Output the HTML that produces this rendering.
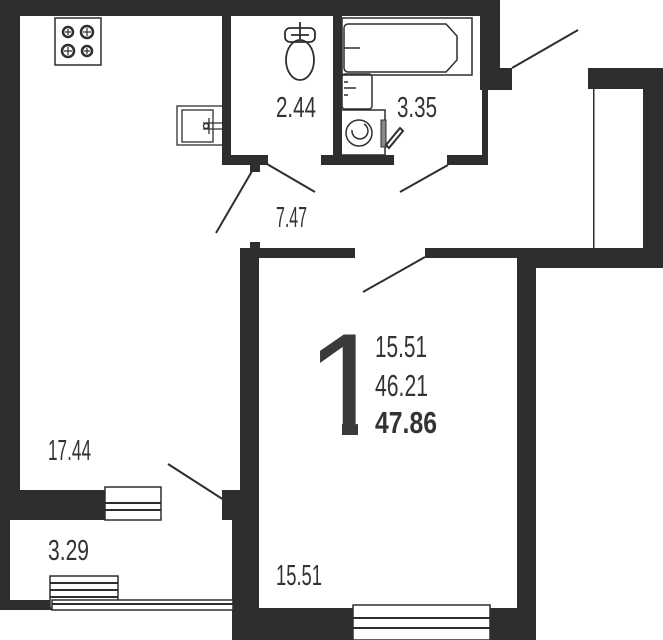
<!DOCTYPE html>
<html><head><meta charset="utf-8"><style>
html,body{margin:0;padding:0;background:#fff;}
svg{display:block;}
text{font-family:"Liberation Sans",sans-serif;fill:#333;}
</style></head><body>
<svg width="663" height="640" viewBox="0 0 663 640" xmlns="http://www.w3.org/2000/svg">
<g fill="#2e2e2e">
<rect x="0" y="0" width="500" height="16"/>
<rect x="0" y="0" width="20" height="520"/>
<rect x="0" y="520" width="10" height="90"/>
<rect x="0" y="490" width="110" height="30"/>
<rect x="0" y="600" width="52" height="10"/>
<rect x="222" y="0" width="9" height="165"/>
<rect x="222" y="155" width="46" height="10"/>
<rect x="250" y="160" width="10" height="12"/>
<rect x="333" y="0" width="9" height="165"/>
<rect x="321" y="155" width="73" height="10"/>
<rect x="447" y="155" width="40" height="10"/>
<rect x="480" y="0" width="20" height="90"/>
<rect x="482" y="68" width="30" height="22"/>
<rect x="482" y="85" width="6" height="80"/>
<rect x="240" y="248" width="19" height="392"/>
<rect x="232" y="490" width="27" height="150"/>
<rect x="250" y="242" width="10" height="16"/>
<rect x="240" y="248" width="115" height="10"/>
<rect x="425" y="248" width="170" height="10"/>
<rect x="517" y="248" width="19" height="392"/>
<rect x="517" y="248" width="146" height="20"/>
<rect x="240" y="608" width="296" height="32"/>
<rect x="588" y="68" width="75" height="21"/>
<rect x="643" y="68" width="20" height="200"/>
<rect x="222" y="490" width="20" height="30"/>
</g>
<rect x="593" y="89" width="1.5" height="160" fill="#2e2e2e"/>
<g fill="#fff" stroke="#2e2e2e" stroke-width="1.5">
<rect x="105" y="487" width="56" height="33"/>
<rect x="353" y="605" width="137" height="35"/>
<rect x="50" y="576" width="68" height="32"/>
<rect x="52" y="600" width="181" height="10"/>
</g>
<g stroke="#2e2e2e" stroke-width="2">
<line x1="105" y1="503" x2="161" y2="503"/><line x1="105" y1="510" x2="161" y2="510"/>
<line x1="353" y1="618" x2="490" y2="618"/><line x1="353" y1="628" x2="490" y2="628"/>
<line x1="50" y1="583" x2="118" y2="583"/><line x1="50" y1="590" x2="118" y2="590"/><line x1="50" y1="597" x2="118" y2="597"/>
<line x1="52" y1="604" x2="233" y2="604"/>
</g>
<g stroke="#2e2e2e" stroke-width="2">
<line x1="255" y1="166" x2="216" y2="233"/>
<line x1="267" y1="164" x2="315" y2="192"/>
<line x1="448" y1="165" x2="400" y2="192"/>
<line x1="512" y1="68" x2="578" y2="30"/>
<line x1="425" y1="257" x2="363" y2="292"/>
<line x1="168" y1="464" x2="224" y2="500"/>
</g>
<rect x="55" y="18" width="46" height="47" fill="none" stroke="#2e2e2e" stroke-width="1.5"/>
<g fill="none" stroke="#2e2e2e" stroke-width="2.5">
<circle cx="68" cy="32" r="5"/><circle cx="87" cy="32" r="6"/>
<circle cx="68" cy="51" r="6"/><circle cx="87" cy="51" r="5"/>
</g>
<g stroke="#2e2e2e" stroke-width="1.2">
<path d="M65 32h6M68 29v6M83 32h8M87 28v8M64 51h8M68 47v8M84 51h6M87 48v6"/>
</g>
<g fill="none" stroke="#2e2e2e" stroke-width="1.3">
<rect x="177" y="106" width="46" height="39"/>
<rect x="182" y="110" width="31" height="32"/>
<path d="M203 123h20M203 129h20M209 118v16"/>
<circle cx="206" cy="126" r="2.5"/>
</g>
<g fill="none" stroke="#2e2e2e" stroke-width="1.8">
<rect x="285" y="28" width="30" height="14" rx="5"/>
<ellipse cx="300" cy="60" rx="14" ry="20"/>
<path d="M300 22v18M291 35h18"/>
</g>
<g fill="none" stroke="#2e2e2e" stroke-width="1.5">
<rect x="342" y="18" width="130" height="57"/>
<path d="M348 24h98l11 12v24l-11 12h-98a4 4 0 0 1-4-4v-40a4 4 0 0 1 4-4z"/>
<path d="M344 48h16"/>
<rect x="342" y="74" width="30" height="35" rx="3"/>
<path d="M344 88h12M344 82h4M344 95h4"/>
<rect x="341" y="110" width="44" height="45"/>
<circle cx="359" cy="133" r="13"/>
<path d="M352 130a8 8 0 1 0 12 -6"/>
</g>
<rect x="381" y="120" width="5" height="27" fill="#888" stroke="#2e2e2e"/>
<path d="M386 145l14-17 3 3-14 17z" fill="none" stroke="#2e2e2e" stroke-width="2"/>
<text x="276" y="117" font-size="29" textLength="40" lengthAdjust="spacingAndGlyphs">2.44</text>
<text x="397" y="117" font-size="29" textLength="40" lengthAdjust="spacingAndGlyphs">3.35</text>
<text x="276" y="227" font-size="29" textLength="31" lengthAdjust="spacingAndGlyphs">7.47</text>
<text x="48" y="460" font-size="29" textLength="43" lengthAdjust="spacingAndGlyphs">17.44</text>
<text x="48" y="560" font-size="29" textLength="41" lengthAdjust="spacingAndGlyphs">3.29</text>
<text x="276" y="585" font-size="29" textLength="46" lengthAdjust="spacingAndGlyphs">15.51</text>
<text x="306" y="435" font-size="146" style="fill:#3a3a3a">1</text>
<rect x="296" y="418" width="46" height="20" fill="#fff"/>
<rect x="358" y="418" width="36" height="20" fill="#fff"/>
<text x="375" y="357" font-size="31" textLength="52" lengthAdjust="spacingAndGlyphs">15.51</text>
<text x="375" y="396" font-size="31" textLength="53" lengthAdjust="spacingAndGlyphs">46.21</text>
<text x="375" y="433" font-size="31" font-weight="bold" textLength="62" lengthAdjust="spacingAndGlyphs">47.86</text>
</svg>
</body></html>
